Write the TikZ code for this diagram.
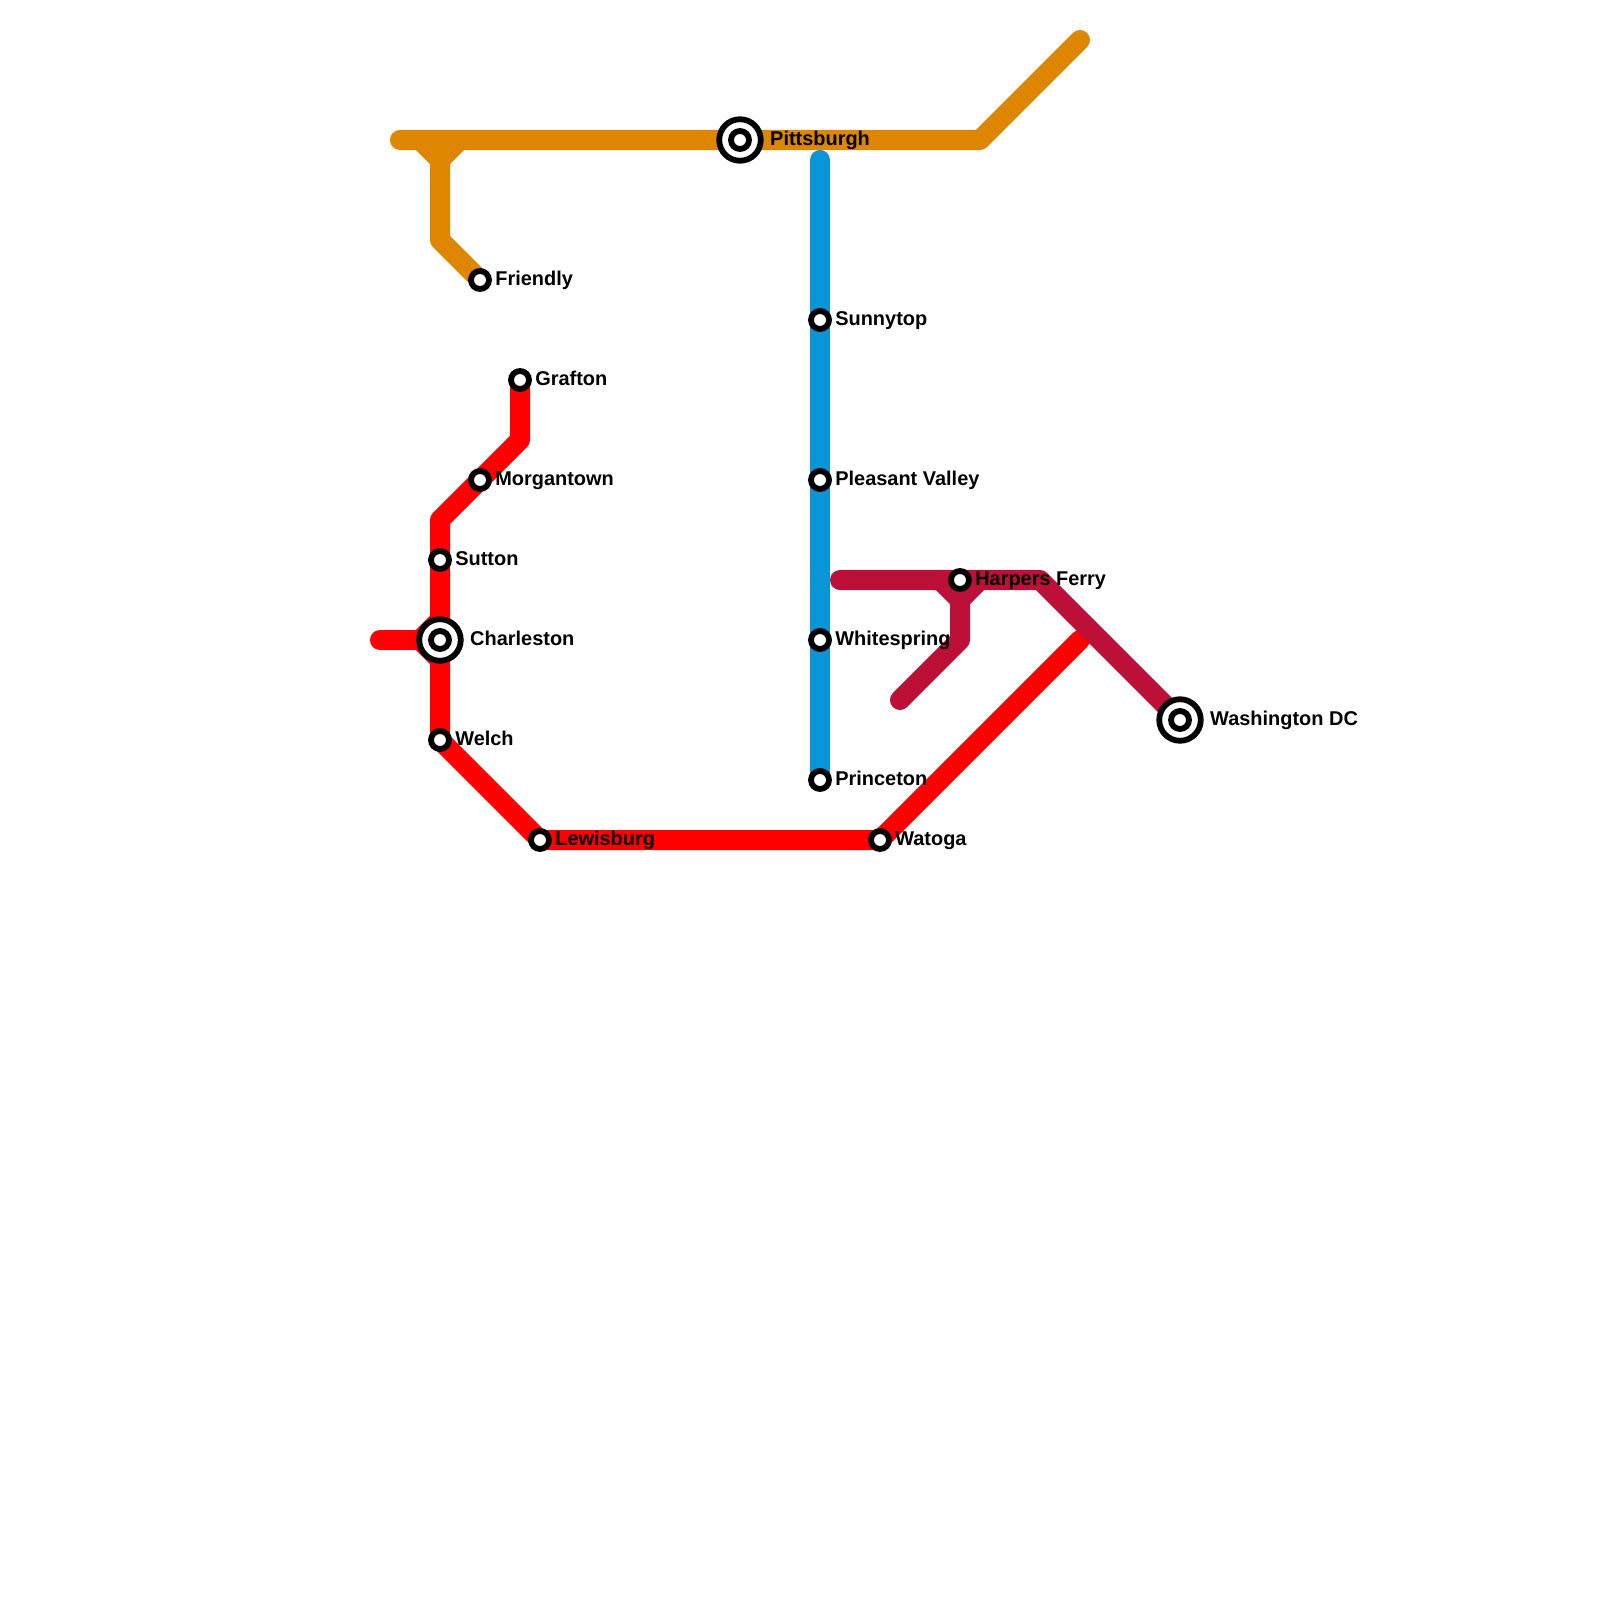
\documentclass[tikz,border=0pt]{standalone}
\usepackage{fontspec}
\setmainfont{Liberation Sans}
\usetikzlibrary{positioning,backgrounds}
\definecolor{orangeline}{HTML}{DF8600}
\definecolor{blueline}{HTML}{0896D7}
\definecolor{redline}{HTML}{FF0000}
\definecolor{purpleline}{HTML}{BD1038}
\begin{document}
\begin{tikzpicture}[
    x=0.01cm, y=-0.01cm,
    station/.style={
      circle, draw=black, fill=white, line width=0.58mm,
      minimum size=1.8mm, inner sep=0pt, outer sep=0pt
    },
    station_big/.style={
      station, minimum size=4.15mm
    },
    line_orange/.style={
      line width=2mm, orangeline, line cap=round, line join=round
    },
    line_blue/.style={
      line width=2mm, blueline, line cap=round, line join=round
    },
    line_red/.style={
      line width=2mm, redline, line cap=round, line join=round
    },
    line_purple/.style={
      line width=2mm, purpleline, line cap=round, line join=round
    },
    label_small/.style={
      font=\fontsize{5.67}{6}\selectfont\bfseries, inner sep=0pt,
      text height=1.55mm, text depth=0.45mm, right=0.56mm of #1
    },
    label_big/.style={
      font=\fontsize{5.67}{6}\selectfont\bfseries, inner sep=0pt,
      text height=1.55mm, text depth=0.45mm, right=0.875mm of #1
    }
  ]
  \useasboundingbox (0,0) rectangle (1600,1600);

  % --- Stations ---
  \node[station_big] (PittsburghO) at (740,140) {};
  \node[station] (Pittsburgh) at (PittsburghO) {};
  \node[station] (Friendly) at (480,280) {};
  \node[station] (Grafton) at (520,380) {};
  \node[station] (Morgantown) at (480,480) {};
  \node[station] (Sutton) at (440,560) {};
  \node[station_big] (CharlestonO) at (440,640) {};
  \node[station] (Charleston) at (CharlestonO) {};
  \node[station] (Welch) at (440,740) {};
  \node[station] (Lewisburg) at (540,840) {};
  \node[station] (Watoga) at (880,840) {};
  \node[station] (Sunnytop) at (820,320) {};
  \node[station] (Pleasant) at (820,480) {};
  \node[station] (Whitespring) at (820,640) {};
  \node[station] (Princeton) at (820,780) {};
  \node[station] (Harpers) at (960,580) {};
  \node[station_big] (WashingtonO) at (1180,720) {};
  \node[station] (Washington) at (WashingtonO) {};

  % --- Labels ---
  \node[label_big=PittsburghO] (PittsburghT) {Pittsburgh};
  \node[label_small=Friendly] (FriendlyT) {Friendly};
  \node[label_small=Grafton] (GraftonT) {Grafton};
  \node[label_small=Morgantown] (MorgantownT) {Morgantown};
  \node[label_small=Sutton] (SuttonT) {Sutton};
  \node[label_big=CharlestonO] (CharlestonT) {Charleston};
  \node[label_small=Welch] (WelchT) {Welch};
  \node[label_small=Lewisburg] (LewisburgT) {Lewisburg};
  \node[label_small=Watoga] (WatogaT) {Watoga};
  \node[label_small=Sunnytop] (SunnytopT) {Sunnytop};
  \node[label_small=Pleasant] (PleasantT) {Pleasant Valley};
  \node[label_small=Whitespring] (WhitespringT) {Whitespring};
  \node[label_small=Princeton] (PrincetonT) {Princeton};
  \node[label_small=Harpers] (HarpersT) {Harpers Ferry};
  \node[label_big=WashingtonO] (WashingtonT) {Washington DC};

  % --- Bends and line ends ---
  \coordinate (O0) at (400,140);
  \coordinate (O1) at (980,140);
  \coordinate (O2) at (1080,40);
  \coordinate (O3) at (420,140);
  \coordinate (O4) at (460,140);
  \coordinate (O5) at (440,160);
  \coordinate (O6) at (440,240);
  \coordinate (B0) at (820,160);
  \coordinate (R0) at (520,440);
  \coordinate (R1) at (440,520);
  \coordinate (R2) at (380,640);
  \coordinate (R3) at (420,640);
  \coordinate (R4) at (440,620);
  \coordinate (R5) at (440,660);
  \coordinate (R6) at (1080,640);
  \coordinate (P0) at (840,580);
  \coordinate (P1) at (1040,580);
  \coordinate (P2) at (940,580);
  \coordinate (P3) at (980,580);
  \coordinate (P4) at (960,600);
  \coordinate (P5) at (960,640);
  \coordinate (P6) at (900,700);

  % --- Lines ---
  \begin{scope}[on background layer]
    \draw[line_orange] (O0) -- (PittsburghO.center) -- (O1) -- (O2);
    \draw[line_orange] (O3) -- (O5) -- (O4);
    \draw[line_orange] (O5) -- (O6) -- (Friendly.center);

    \draw[line_blue] (B0) -- (Sunnytop.center) -- (Pleasant.center)
      -- (Whitespring.center) -- (Princeton.center);

    \draw[line_red] (Grafton.center) -- (R0) -- (R1) -- (Sutton.center)
      -- (Charleston.center) -- (Welch.center) -- (Lewisburg.center)
      -- (Watoga.center) -- (R6);
    \draw[line_red] (R2) -- (R3);
    \draw[line_red] (R4) -- (R3) -- (R5);

    \draw[line_purple] (P0) -- (Harpers.center) -- (P1) -- (Washington.center);
    \draw[line_purple] (P2) -- (P4) -- (P3);
    \draw[line_purple] (P4) -- (P5) -- (P6);
  \end{scope}
\end{tikzpicture}
\end{document}
